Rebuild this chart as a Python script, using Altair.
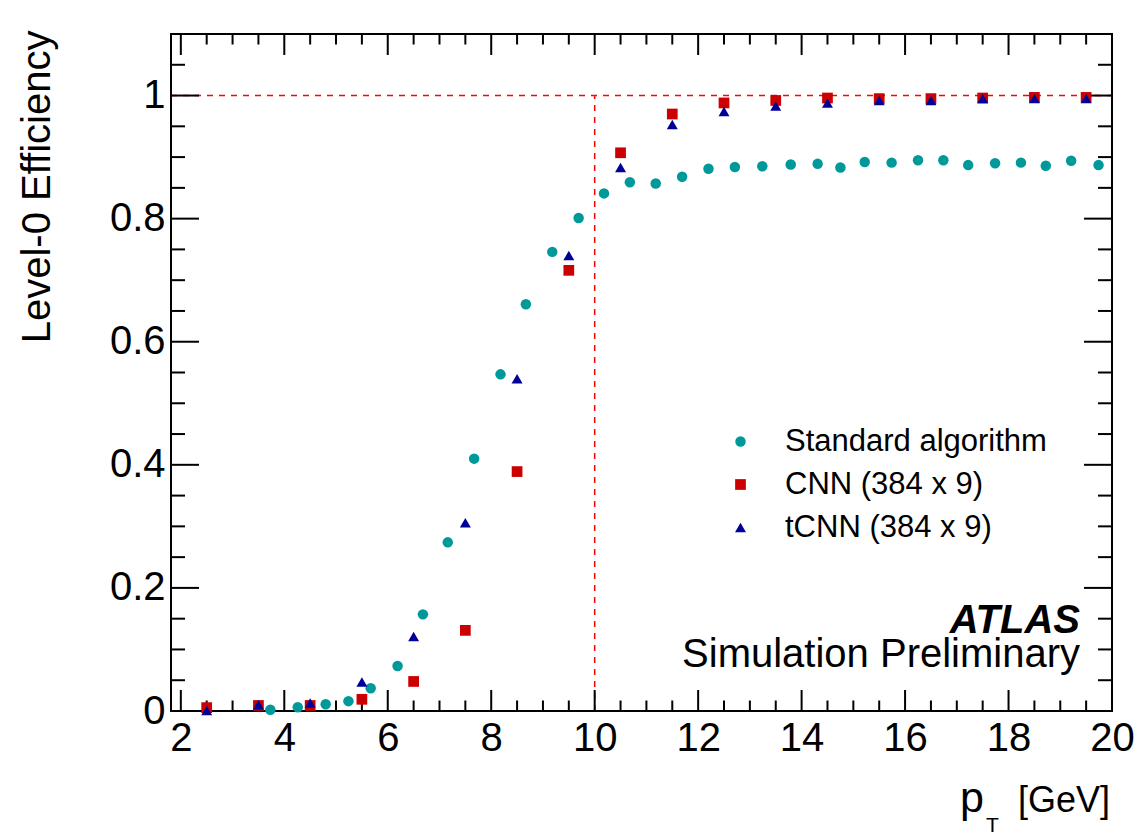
import altair as alt
import pandas as pd
import numpy as np

FONT = "Liberation Sans"

# ---- data ----
std_x = [3.73, 4.26, 4.80, 5.24, 5.67, 6.19, 6.68, 7.16, 7.67, 8.18, 8.67, 9.18, 9.69, 10.18,
         10.68, 11.18, 11.69, 12.20, 12.71, 13.24, 13.79, 14.31, 14.75,
         15.22, 15.74, 16.25, 16.74, 17.22, 17.74, 18.24, 18.72, 19.21, 19.74]
std_y = [0.002, 0.006, 0.011, 0.016, 0.037, 0.073, 0.157, 0.274, 0.410, 0.547, 0.661, 0.746, 0.801, 0.841,
         0.859, 0.857, 0.868, 0.881, 0.884, 0.885, 0.888, 0.889, 0.883,
         0.892, 0.891, 0.895, 0.895, 0.887, 0.890, 0.891, 0.886, 0.894, 0.887]

cnn_x = [2.5, 3.5, 4.5, 5.5, 6.5, 7.5, 8.5, 9.5, 10.5, 11.5, 12.5, 13.5, 14.5, 15.5, 16.5, 17.5, 18.5, 19.5]
cnn_y = [0.0055, 0.009, 0.009, 0.019, 0.048, 0.131, 0.389, 0.716, 0.907, 0.970, 0.988, 0.992, 0.996,
         0.995, 0.995, 0.996, 0.997, 0.997]

tcnn_x = [2.5, 3.5, 4.5, 5.5, 6.5, 7.5, 8.5, 9.5, 10.5, 11.5, 12.5, 13.5, 14.5, 15.5, 16.5, 17.5, 18.5, 19.5]
tcnn_y = [0.001, 0.010, 0.013, 0.047, 0.121, 0.306, 0.540, 0.740, 0.883, 0.953, 0.974, 0.983, 0.988,
          0.992, 0.992, 0.995, 0.995, 0.995]

series_names = ["Standard algorithm", "CNN (384 x 9)", "tCNN (384 x 9)"]
series_colors = ["#009999", "#cc0000", "#000099"]
series_shapes = ["circle", "square", "triangle-up"]
series_sizes = [110, 120, 130]

x_major = [2, 4, 6, 8, 10, 12, 14, 16, 18, 20]
x_minor = [v for v in np.arange(2.0, 20.01, 0.5).round(2).tolist() if v not in x_major]
y_major = [0.0, 0.2, 0.4, 0.6, 0.8, 1.0]
y_minor = [v for v in np.arange(0.0, 1.101, 0.05).round(2).tolist() if v not in y_major]

X_DOMAIN = [1.81, 20.0]
Y_DOMAIN = [0.0, 1.1]
W, H = 941, 677

df = pd.concat([
    pd.DataFrame({"pt": std_x, "eff": std_y, "series": series_names[0]}),
    pd.DataFrame({"pt": cnn_x, "eff": cnn_y, "series": series_names[1]}),
    pd.DataFrame({"pt": tcnn_x, "eff": tcnn_y, "series": series_names[2]}),
], ignore_index=True)

xs = alt.Scale(domain=X_DOMAIN, nice=False, zero=False)
ys = alt.Scale(domain=Y_DOMAIN, nice=False, zero=False)

x_axis = alt.Axis(values=x_major, format="~g", ticks=False, tickSize=0, domain=False, grid=False,
                  labelFontSize=40, labelFont=FONT, labelColor="black", labelPadding=7,
                  labelFlush=False, labelOverlap=False, title=None)
y_axis = alt.Axis(values=y_major, format="~g", ticks=False, tickSize=0, domain=False, grid=False,
                  labelFontSize=40, labelFont=FONT, labelColor="black", labelPadding=6,
                  labelFlush=False, labelOverlap=False,
                  title="Level-0 Efficiency", titleFontSize=40, titleFont=FONT,
                  titleFontWeight="normal", titleColor="black", titleAngle=270,
                  titleAlign="right", titleBaseline="alphabetic", titleX=-122, titleY=-4)

points = alt.Chart(df).mark_point(filled=True, opacity=1, strokeWidth=0).encode(
    x=alt.X("pt:Q", scale=xs, axis=x_axis, title=None),
    y=alt.Y("eff:Q", scale=ys, axis=y_axis, title="Level-0 Efficiency"),
    color=alt.Color("series:N", scale=alt.Scale(domain=series_names, range=series_colors),
                    legend=alt.Legend(orient="none", legendX=554, legendY=392, title=None,
                                      labelFontSize=31, labelFont=FONT, labelColor="black",
                                      labelOffset=29, rowPadding=11, padding=0, labelLimit=0)),
    shape=alt.Shape("series:N", scale=alt.Scale(domain=series_names, range=series_shapes)),
    size=alt.Size("series:N", scale=alt.Scale(domain=series_names, range=series_sizes)),
    order=alt.Order("idx:Q"),
).transform_window(idx="row_number()")


def tick_layer(vals, ch, start, end):
    d = pd.DataFrame({"pt": vals}) if ch == "x" else pd.DataFrame({"eff": vals})
    base = alt.Chart(d).mark_rule(color="black", strokeWidth=2)
    if ch == "x":
        return base.encode(x=alt.X("pt:Q", scale=xs, axis=x_axis, title=None),
                           y=alt.value(start), y2=alt.value(end))
    return base.encode(y=alt.Y("eff:Q", scale=ys, axis=y_axis, title="Level-0 Efficiency"),
                       x=alt.value(start), x2=alt.value(end))


ticks = [
    tick_layer(x_major, "x", H, H - 21), tick_layer(x_minor, "x", H, H - 10.5),
    tick_layer(x_major, "x", 0, 21), tick_layer(x_minor, "x", 0, 10.5),
    tick_layer(y_major, "y", 0, 28), tick_layer(y_minor, "y", 0, 14),
    tick_layer(y_major, "y", W, W - 28), tick_layer(y_minor, "y", W, W - 14),
]

ref = pd.DataFrame({"pt": [10.0], "eff": [1.0], "eff0": [0.0]})
hline = alt.Chart(ref).mark_rule(color="#ff0000", strokeDash=[6, 6], strokeWidth=1.5).encode(
    y=alt.Y("eff:Q", scale=ys, axis=y_axis, title="Level-0 Efficiency"),
    x=alt.value(0), x2=alt.value(W))
vline = alt.Chart(ref).mark_rule(color="#ff0000", strokeDash=[6, 6], strokeWidth=1.5).encode(
    x=alt.X("pt:Q", scale=xs, axis=x_axis, title=None),
    y=alt.Y("eff0:Q", scale=ys, axis=y_axis, title="Level-0 Efficiency"), y2="eff:Q")


def text_layer(txt, x, y, size, align="left", weight="normal", style="normal"):
    return alt.Chart(pd.DataFrame({"t": [txt]})).mark_text(
        align=align, baseline="alphabetic", fontSize=size, font=FONT, fontWeight=weight,
        fontStyle=style, color="black").encode(x=alt.value(x), y=alt.value(y), text="t:N")


texts = [
    text_layer("ATLAS", 909, 599, 40, align="right", weight="bold", style="italic"),
    text_layer("Simulation Preliminary", 909, 633, 40, align="right"),
    text_layer("p", 789, 778, 43),
    text_layer("T", 815, 798, 21),
    text_layer("[GeV]", 939, 778, 36, align="right"),
]

chart = alt.layer(hline, vline, *ticks, points, *texts).properties(
    width=W, height=H,
    padding={"left": 163, "top": 26, "right": 23, "bottom": 125},
    autosize=alt.AutoSizeParams(type="none"),
    background="white",
).configure_view(stroke="black", strokeWidth=2).configure_axis(grid=False)

chart.save("out.html", embed_options={"renderer": "svg", "actions": False})
